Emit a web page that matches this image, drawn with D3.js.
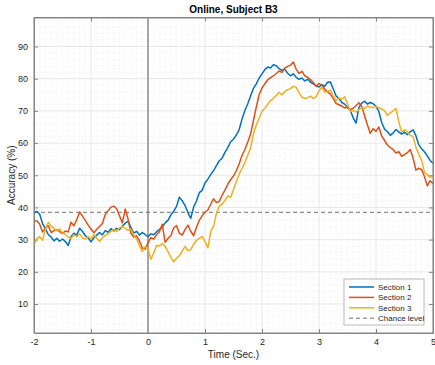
<!DOCTYPE html>
<html>
<head>
<meta charset="utf-8">
<script src="https://cdn.jsdelivr.net/npm/d3@7"></script>
<style>
  body { margin: 0; background: #fff; }
  svg text { font-family: "Liberation Sans", Arial, sans-serif; }
</style>
</head>
<body>
<div id="chart"></div>
<script>
// time axis: -2 .. 5 s, one sample every 0.05 s
const tStart = -2, tStep = 0.05

const section1 = [
  38.2, 38.8, 37.9, 35.0, 33.4, 31.6, 30.8, 29.6, 30.4, 29.5, 30.2, 29.4, 28.2, 30.9, 32.0, 31.4, 33.5, 32.6, 31.2, 30.5,
  29.3, 30.6, 31.4, 32.2, 31.5, 32.8, 32.3, 33.4, 32.7, 33.5, 33.1, 34.2, 35.1, 35.7, 33.8, 32.0, 32.6, 31.4, 32.2, 31.6,
  30.9, 31.8, 31.5, 32.4, 33.1, 33.9, 35.2, 36.0, 37.6, 38.8, 40.3, 43.2, 42.1, 40.6, 38.4, 36.6, 40.1, 42.0, 44.6, 45.3,
  47.6, 48.8, 50.2, 51.4, 53.0, 54.5, 55.3, 57.1, 58.6, 60.4, 61.2, 62.5, 64.2, 67.5, 70.1, 72.2, 74.6, 77.0, 78.4, 80.2,
  81.5, 82.8, 83.6, 83.3, 84.3, 84.0, 83.1, 82.6, 82.9, 81.7, 80.9, 81.5, 80.4, 79.8, 80.2, 79.3, 79.8, 78.9, 78.4, 77.8,
  77.4, 78.2, 77.6, 78.9, 79.0, 76.8, 74.6, 73.9, 72.6, 72.1, 71.0, 70.2, 67.8, 66.2, 71.0, 72.4, 73.0, 72.1, 72.6, 72.2,
  71.4, 69.8, 66.4, 64.3, 63.6, 62.4, 63.1, 64.2, 63.5, 62.8, 63.4, 62.6, 63.5, 64.1, 62.3, 59.5, 58.2, 57.3, 56.0, 54.6,
  53.7
]
const section2 = [
  35.6, 35.9, 34.8, 32.4, 33.6, 34.3, 32.2, 32.8, 33.1, 32.5, 31.9, 32.7, 32.4, 35.4, 34.3, 36.2, 38.6, 37.3, 36.0, 34.5,
  33.3, 32.1, 33.2, 34.1, 35.0, 37.8, 39.0, 40.1, 40.4, 39.6, 37.4, 35.2, 39.5, 36.4, 32.0, 30.8, 31.2, 29.6, 27.4, 27.0,
  29.0, 30.6, 30.2, 31.5, 32.4, 34.8, 29.2, 30.4, 31.2, 33.6, 34.4, 32.0, 31.4, 33.1, 34.5, 32.6, 31.2, 33.8, 36.0, 37.4,
  38.5, 39.2, 41.0, 42.7, 41.5, 41.9, 43.8, 45.4, 47.2, 48.6, 49.8, 51.4, 53.6, 56.2, 58.0, 60.3, 62.8, 67.0, 71.2, 75.0,
  77.1, 78.4, 79.6, 80.3, 80.9, 81.6, 82.4, 82.0, 83.3, 83.8, 84.2, 85.2, 82.9, 81.6, 82.3, 80.9, 80.4, 79.7, 78.8, 77.6,
  78.5, 77.9, 76.8, 75.9, 75.2, 73.8, 72.3, 71.9, 71.5, 70.9, 71.2, 70.4, 70.8, 71.6, 72.5, 71.4, 68.5, 65.6, 63.0, 64.5,
  63.6, 65.0, 62.2, 60.8, 59.4, 58.6, 58.0, 56.9, 57.3, 55.9, 56.4, 57.0, 58.0, 55.4, 51.6, 52.2, 51.7, 49.6, 46.7, 48.3,
  47.4
]
const section3 = [
  28.3, 30.4, 30.9, 29.8, 33.2, 35.4, 34.2, 33.5, 32.8, 33.3, 32.1, 31.6, 30.8, 30.3, 31.5, 30.9, 31.8, 30.6, 30.2, 31.0,
  30.1, 31.6, 30.5, 29.4, 30.6, 31.3, 31.8, 32.6, 33.2, 32.5, 33.6, 34.1, 33.5, 32.9, 33.3, 31.4, 30.2, 28.1, 26.3, 27.8,
  27.2, 23.9, 25.8, 28.2, 28.0, 28.9, 27.9, 26.3, 24.6, 23.1, 24.2, 25.0, 26.4, 27.9, 26.6, 26.9, 28.5, 29.8, 30.4, 31.0,
  29.4, 27.4, 32.6, 34.2, 38.1, 40.4, 41.0, 42.2, 43.6, 43.1, 45.6, 48.0, 50.4, 52.1, 54.0, 56.2, 58.5, 62.8, 65.6, 67.8,
  69.9, 70.8, 72.0, 73.2, 73.9, 74.8, 75.8, 74.9, 76.0, 76.6, 76.9, 77.6, 77.3, 75.6, 74.3, 73.8, 74.1, 74.6, 73.9, 74.4,
  76.2, 77.4, 75.8, 76.1, 76.4, 74.6, 73.2, 74.0, 73.6, 74.4, 72.1, 69.8, 70.1, 69.6, 70.4, 71.0, 70.8, 71.5, 71.2, 71.0,
  71.4, 70.9, 70.6, 70.1, 68.6, 69.4, 70.0, 70.8, 66.5, 63.4, 64.1, 63.6, 62.4, 62.0, 58.8, 56.5, 54.6, 50.8, 50.2, 49.3,
  49.8
]

const seriesNames = ["Section 1", "Section 2", "Section 3"]
const seriesColors = ["#0072BD", "#D95319", "#EDB120"]
const chanceLevel = 38.5
const xTicks = [-2, -1, 0, 1, 2, 3, 4, 5]
const yTicks = [10, 20, 30, 40, 50, 60, 70, 80, 90]

const width = 435, height = 365
const margin = {left: 34, right: 2, top: 17.5, bottom: 32}

const x = d3.scaleLinear().domain([-2, 5]).range([margin.left, width - margin.right])
const y = d3.scaleLinear().domain([1, 99]).range([height - margin.bottom, margin.top])

const svg = d3.select("#chart").append("svg")
    .attr("width", width)
    .attr("height", height)

// minor grid
const minorX = d3.range(-2, 5.0001, 0.1).filter(v => Math.abs(v - Math.round(v)) > 1e-6)
const minorY = d3.range(2, 99, 2).filter(v => v % 10 !== 0)
svg.append("g").selectAll("line").data(minorX).join("line")
    .attr("x1", d => x(d)).attr("x2", d => x(d))
    .attr("y1", y(99)).attr("y2", y(1))
    .attr("stroke", "#e4e4e4").attr("stroke-width", 0.6).attr("stroke-dasharray", "1,2")
svg.append("g").selectAll("line").data(minorY).join("line")
    .attr("x1", x(-2)).attr("x2", x(5))
    .attr("y1", d => y(d)).attr("y2", d => y(d))
    .attr("stroke", "#e4e4e4").attr("stroke-width", 0.6).attr("stroke-dasharray", "1,2")

// major grid
svg.append("g").selectAll("line").data(xTicks).join("line")
    .attr("x1", d => x(d)).attr("x2", d => x(d))
    .attr("y1", y(99)).attr("y2", y(1))
    .attr("stroke", "#dedede").attr("stroke-width", 0.7)
svg.append("g").selectAll("line").data(yTicks).join("line")
    .attr("x1", x(-2)).attr("x2", x(5))
    .attr("y1", d => y(d)).attr("y2", d => y(d))
    .attr("stroke", "#dedede").attr("stroke-width", 0.7)

// axes (ticks inside, box)
svg.append("g")
    .attr("transform", `translate(0,${y(1)})`)
    .call(d3.axisBottom(x).tickValues(xTicks).tickSizeInner(-4).tickSizeOuter(0).tickPadding(6).tickFormat(d => String(d)))
svg.append("g")
    .attr("transform", `translate(${x(-2)},0)`)
    .call(d3.axisLeft(y).tickValues(yTicks).tickSizeInner(-4).tickSizeOuter(0).tickPadding(6))
svg.append("g")
    .attr("transform", `translate(0,${y(99)})`)
    .call(d3.axisTop(x).tickValues(xTicks).tickSizeInner(-4).tickSizeOuter(0).tickFormat(""))
svg.append("g")
    .attr("transform", `translate(${x(5)},0)`)
    .call(d3.axisRight(y).tickValues(yTicks).tickSizeInner(-4).tickSizeOuter(0).tickFormat(""))

svg.selectAll(".domain").attr("stroke", "#858585").attr("stroke-width", 1)
svg.selectAll(".tick line").attr("stroke", "#858585")
svg.selectAll(".tick text").attr("fill", "#262626").style("font-size", "9px")

// stimulus onset line
svg.append("line")
    .attr("x1", x(0)).attr("x2", x(0))
    .attr("y1", y(99)).attr("y2", y(1))
    .attr("stroke", "#a6a6a6").attr("stroke-width", 2)

// chance level
svg.append("line")
    .attr("x1", x(-2)).attr("x2", x(5))
    .attr("y1", y(chanceLevel)).attr("y2", y(chanceLevel))
    .attr("stroke", "#707070").attr("stroke-width", 1).attr("stroke-dasharray", "4,3")

// data lines
const line = d3.line()
    .x((d, i) => x(tStart + i * tStep))
    .y(d => y(d))

const allSeries = [section1, section2, section3]
allSeries.forEach((s, i) => {
    svg.append("path")
        .datum(s)
        .attr("fill", "none")
        .attr("stroke", seriesColors[i])
        .attr("stroke-width", 1.5)
        .attr("stroke-linejoin", "round")
        .attr("d", line)
})

// redraw box edges over the lines
svg.append("rect")
    .attr("x", x(-2)).attr("y", y(99))
    .attr("width", x(5) - x(-2)).attr("height", y(1) - y(99))
    .attr("fill", "none").attr("stroke", "#858585").attr("stroke-width", 1)

// labels
svg.append("text")
    .attr("x", (x(-2) + x(5)) / 2).attr("y", 13)
    .attr("text-anchor", "middle")
    .style("font-size", "10px").style("font-weight", "bold").attr("fill", "#000")
    .text("Online, Subject B3")
svg.append("text")
    .attr("x", (x(-2) + x(5)) / 2).attr("y", 358)
    .attr("text-anchor", "middle")
    .style("font-size", "10px").attr("fill", "#262626")
    .text("Time (Sec.)")
svg.append("text")
    .attr("transform", `translate(15,${(y(1) + y(99)) / 2}) rotate(-90)`)
    .attr("text-anchor", "middle")
    .style("font-size", "10px").attr("fill", "#262626")
    .text("Accuracy (%)")

// legend
const legend = svg.append("g").attr("transform", "translate(344,279)")
legend.append("rect")
    .attr("width", 80).attr("height", 46)
    .attr("fill", "#fff").attr("stroke", "#a8a8a8").attr("stroke-width", 0.8)
const legendItems = seriesNames.map((n, i) => ({name: n, color: seriesColors[i], dash: null}))
legendItems.push({name: "Chance level", color: "#707070", dash: "4,3"})
legendItems.forEach((d, i) => {
    const row = legend.append("g").attr("transform", `translate(0,${8 + i * 10.4})`)
    row.append("line")
        .attr("x1", 5).attr("x2", 30)
        .attr("stroke", d.color)
        .attr("stroke-width", d.dash ? 1 : 1.5)
        .attr("stroke-dasharray", d.dash)
    row.append("text")
        .attr("x", 34).attr("dy", "0.35em")
        .style("font-size", "8px").attr("fill", "#262626")
        .text(d.name)
})
</script>
</body>
</html>
